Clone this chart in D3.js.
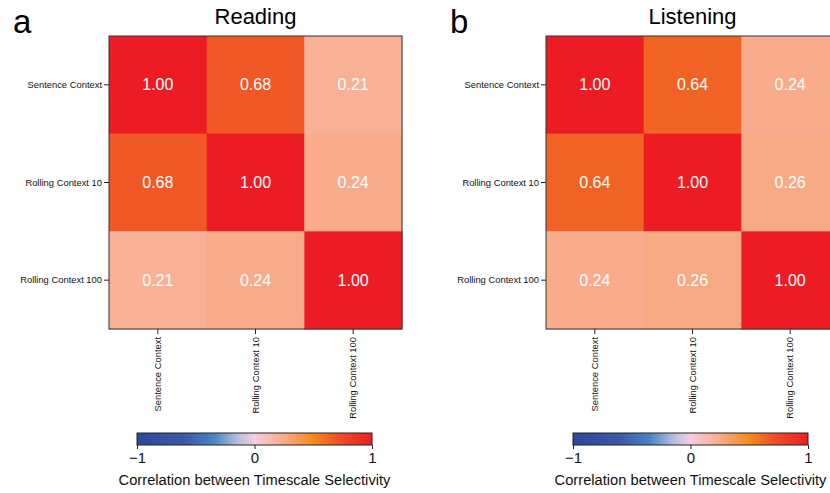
<!DOCTYPE html>
<html>
<head>
<meta charset="utf-8">
<script src="https://cdn.jsdelivr.net/npm/d3@7"></script>
<style>
  html, body { margin: 0; padding: 0; background: #fff; }
  svg { display: block; font-family: "Liberation Sans", Arial, sans-serif; }
</style>
</head>
<body>
<svg id="chart" width="830" height="493"></svg>
<script>
// Timescale categories (rows and columns of each matrix)
const categories = ["Sentence Context", "Rolling Context 10", "Rolling Context 100"];

// Correlation matrices
const readingValues = [
  [1.00, 0.68, 0.21],
  [0.68, 1.00, 0.24],
  [0.21, 0.24, 1.00]
];
const listeningValues = [
  [1.00, 0.64, 0.24],
  [0.64, 1.00, 0.26],
  [0.24, 0.26, 1.00]
];

const panelTitles = ["Reading", "Listening"];
const panelLetters = ["a", "b"];
const colorbarTicks = [-1, 0, 1];
const colorbarLabel = "Correlation between Timescale Selectivity";

// Diverging colour map: blue -> pink -> orange -> red
const cmapStops  = [-1, -0.6, -0.35, -0.15, 0, 0.25, 0.5, 0.7, 1];
const cmapColors = ["#2d489b", "#3b58a7", "#4784c3", "#b2bcde", "#f7cde0",
                    "#f8ab88", "#f58a20", "#ef5227", "#ed1c24"];
const color = d3.scaleLinear().domain(cmapStops).range(cmapColors)
  .interpolate(d3.interpolateRgb).clamp(true);

const svg = d3.select("#chart");
const defs = svg.append("defs");

const grad = defs.append("linearGradient").attr("id", "cbar")
  .attr("x1", "0%").attr("x2", "100%").attr("y1", "0%").attr("y2", "0%");
d3.range(0, 101).forEach(i => {
  grad.append("stop").attr("offset", i + "%").attr("stop-color", color(-1 + 2 * i / 100));
});

const panels = [
  { values: readingValues, left: 109, cbLeft: 137 },
  { values: listeningValues, left: 546, cbLeft: 573 }
];

const mapSize = 293, mapTop = 36;

panels.forEach((p, pi) => {
  const g = svg.append("g");
  const x = d3.scaleBand().domain(categories).range([p.left, p.left + mapSize]);
  const y = d3.scaleBand().domain(categories).range([mapTop, mapTop + mapSize]);

  // cells
  const cells = [];
  p.values.forEach((row, r) => row.forEach((v, c) => cells.push({ r, c, v })));

  g.selectAll("rect.cell").data(cells).join("rect")
    .attr("class", "cell")
    .attr("x", d => x(categories[d.c]))
    .attr("y", d => y(categories[d.r]))
    .attr("width", x.bandwidth() + 0.5)
    .attr("height", y.bandwidth() + 0.5)
    .attr("fill", d => color(d.v));

  g.selectAll("text.val").data(cells).join("text")
    .attr("class", "val")
    .attr("x", d => x(categories[d.c]) + x.bandwidth() / 2)
    .attr("y", d => y(categories[d.r]) + y.bandwidth() / 2)
    .attr("dy", "0.35em")
    .attr("text-anchor", "middle")
    .attr("fill", "#ffffff")
    .attr("font-size", 16)
    .text(d => d.v.toFixed(2));

  // frame
  g.append("rect")
    .attr("x", p.left).attr("y", mapTop)
    .attr("width", mapSize).attr("height", mapSize)
    .attr("fill", "none").attr("stroke", "#333").attr("stroke-width", 1);

  // y axis
  const yAxis = g.append("g").attr("transform", `translate(${p.left},0)`)
    .call(d3.axisLeft(y).tickSize(5).tickPadding(2));
  yAxis.select(".domain").remove();
  yAxis.selectAll("line").attr("stroke", "#222");
  yAxis.selectAll("text").attr("font-size", 9.4).attr("fill", "#111")
    .attr("font-family", "Liberation Sans, Arial, sans-serif");

  // x axis with vertical labels
  const xAxis = g.append("g").attr("transform", `translate(0,${mapTop + mapSize})`)
    .call(d3.axisBottom(x).tickSize(5).tickPadding(2));
  xAxis.select(".domain").remove();
  xAxis.selectAll("line").attr("stroke", "#222");
  xAxis.selectAll("text")
    .attr("font-size", 9.4).attr("fill", "#111")
    .attr("font-family", "Liberation Sans, Arial, sans-serif")
    .attr("transform", "rotate(-90)")
    .attr("text-anchor", "end")
    .attr("x", -8).attr("y", 0).attr("dy", "0.35em");

  // title and panel letter
  svg.append("text")
    .attr("x", p.left + mapSize / 2).attr("y", 24)
    .attr("text-anchor", "middle").attr("font-size", 22).attr("fill", "#000")
    .text(panelTitles[pi]);
  svg.append("text")
    .attr("x", p.left - 96).attr("y", 33)
    .attr("font-size", 33).attr("fill", "#000")
    .text(panelLetters[pi]);

  // colorbar
  const cbW = 235, cbY = 433, cbH = 12;
  const cx = d3.scaleLinear().domain([-1, 1]).range([p.cbLeft, p.cbLeft + cbW]);
  svg.append("rect")
    .attr("x", p.cbLeft).attr("y", cbY).attr("width", cbW).attr("height", cbH)
    .attr("fill", "url(#cbar)").attr("stroke", "#222").attr("stroke-width", 1);
  const cAxis = svg.append("g").attr("transform", `translate(0,${cbY + cbH})`)
    .call(d3.axisBottom(cx).tickValues(colorbarTicks).tickSize(4).tickPadding(3)
      .tickFormat(d => d < 0 ? "\u2212" + Math.abs(d) : String(d)));
  cAxis.select(".domain").remove();
  cAxis.selectAll("line").attr("stroke", "#222");
  cAxis.selectAll("text").attr("font-size", 15).attr("fill", "#111")
    .attr("font-family", "Liberation Sans, Arial, sans-serif");
  svg.append("text")
    .attr("x", p.cbLeft + cbW / 2).attr("y", 485)
    .attr("text-anchor", "middle").attr("font-size", 14.7).attr("fill", "#111")
    .text(colorbarLabel);
});
</script>
</body>
</html>
